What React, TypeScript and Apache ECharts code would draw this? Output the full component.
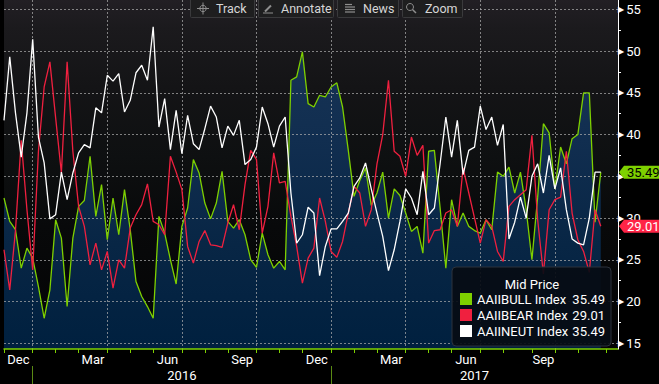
import React, { useEffect, useRef } from "react";
import * as echarts from "echarts";

// ---------------- data ----------------
const FIRST_WEEK = Date.UTC(2015, 11, 3); // first weekly observation (Thu 3 Dec 2015)
const SLOT_COUNT = 108; // weekly slots shown on the axis
const MONTH_NAMES = ["Jan", "Feb", "Mar", "Apr", "May", "Jun", "Jul", "Aug", "Sep", "Oct", "Nov", "Dec"];
const LABELLED_MONTHS = [11, 2, 5, 8];
const GRID_MONTHS = [0, 3, 6, 9];
const SERIES_NAMES = ["AAIIBULL Index", "AAIIBEAR Index", "AAIINEUT Index"];
const LEGEND_TITLE = "Mid Price";
const TOOLBAR_LABELS = ["Track", "Annotate", "News", "Zoom"];

const bull = [
  32.4, 29.6, 28.6, 24.0, 26.4, 25.2, 21.8, 18.0, 21.4, 29.8,
  27.6, 19.4, 27.6, 31.4, 32.1, 37.4, 30.2, 34.0, 27.4, 32.4,
  28.0, 33.4, 28.6, 22.4, 20.6, 19.4, 18.0, 30.2, 28.2, 25.0,
  22.1, 29.0, 31.2, 37.0, 35.4, 31.8, 29.9, 31.8, 35.6, 29.6,
  28.8, 29.8, 28.0, 25.0, 24.1, 28.2, 25.6, 24.0, 24.8, 23.8,
  46.5, 46.9, 49.9, 43.7, 43.3, 44.7, 44.5, 45.7, 46.2, 43.3,
  38.1, 32.6, 34.5, 36.0, 31.5, 33.0, 35.5, 30.0, 33.5, 32.7,
  30.6, 28.4, 29.0, 25.8, 38.0, 38.1, 31.2, 24.0, 32.2, 29.0,
  30.6, 29.0, 28.5, 28.2, 29.8, 28.6, 35.5, 35.0, 36.1, 33.0,
  35.5, 31.0, 25.0, 32.5, 41.3, 40.2, 33.5, 38.5, 36.5, 39.5,
  40.0, 45.0, 45.0, 29.5, 35.49,
];
const bear = [
  26.2, 21.4, 28.5, 39.3, 31.0, 23.8, 38.0, 45.7, 48.7, 42.0,
  35.4, 48.7, 38.0, 31.4, 29.0, 24.4, 27.0, 23.8, 26.0, 21.6,
  25.0, 24.0, 28.8, 30.4, 31.6, 34.1, 29.6, 29.2, 28.0, 37.4,
  35.5, 33.4, 26.6, 24.6, 27.2, 28.5, 26.8, 26.7, 26.5, 29.4,
  31.6, 28.6, 34.0, 38.1, 37.0, 28.2, 31.4, 37.8, 34.2, 34.4,
  30.2, 26.6, 22.2, 25.2, 26.4, 32.4, 29.6, 26.0, 25.3, 27.2,
  30.6, 33.8, 33.0, 29.0, 31.0, 36.5, 40.0, 46.5, 38.0, 37.4,
  35.0, 39.7, 37.5, 38.7, 27.0, 28.5, 28.6, 30.6, 31.0, 29.0,
  36.0, 33.0, 30.0, 27.0, 29.8, 29.0, 26.0, 24.8, 31.4, 32.2,
  32.8, 33.4, 39.9, 29.8, 23.3, 31.0, 32.2, 32.5, 38.0, 30.6,
  27.4, 26.0, 23.5, 31.0, 29.01,
];
const neut = [
  41.7, 49.3, 42.6, 37.3, 42.6, 51.4, 39.7, 36.6, 29.9, 30.4,
  35.5, 32.2, 35.4, 37.8, 38.8, 38.4, 43.2, 42.6, 47.1, 46.4,
  47.3, 42.7, 44.1, 47.4, 48.3, 46.5, 52.9, 40.9, 44.3, 38.2,
  42.9, 37.7, 42.3, 38.9, 38.2, 40.7, 43.4, 42.1, 38.4, 41.0,
  39.9, 41.7, 36.4, 37.0, 38.5, 43.3, 41.3, 38.5, 41.0, 42.1,
  33.0, 27.0, 28.0, 31.3, 30.6, 23.1, 26.6, 28.7, 28.7, 29.6,
  30.6, 33.8, 34.8, 36.6, 33.5, 30.6, 27.8, 23.7, 26.2, 29.6,
  33.5, 32.4, 30.4, 35.6, 30.4, 31.2, 36.5, 42.1, 37.3, 41.7,
  35.2, 38.1, 38.5, 43.4, 40.6, 42.1, 38.7, 41.2, 27.5, 29.5,
  32.5, 30.0, 35.0, 36.5, 33.0, 37.5, 33.5, 36.0, 31.0, 27.5,
  27.0, 26.8, 30.0, 35.49, 35.49,
];

// ---------------- layout / style ----------------
const W = 659;
const H = 384;
const PLOT_LEFT = 4;
const PLOT_RIGHT = 618;
const PLOT_BOTTOM = 349;
const TICK15_Y = 343.3;
const TICK55_Y = 9.3;
const PX_PER_UNIT = (TICK15_Y - TICK55_Y) / 40;
const DATA_MIN = 15 - (PLOT_BOTTOM - TICK15_Y) / PX_PER_UNIT;
const DATA_MAX = 55 + TICK55_Y / PX_PER_UNIT;
const STEP = (PLOT_RIGHT - PLOT_LEFT) / (SLOT_COUNT - 1);
const FONT = "Roboto, 'DejaVu Sans', sans-serif";
const GREEN = "#7ed000";
const RED = "#ff2446";
const WHITE = "#ffffff";
const GRID_DASH = "rgba(175,175,175,0.7)";

const TOOLBAR_LAYOUT = [
  { x0: 190, x1: 254, tx: 216, icon: "cross", ix: 203 },
  { x0: 258, x1: 333, tx: 281, icon: "pencil", ix: 268 },
  { x0: 337, x1: 398, tx: 363, icon: "news", ix: 350 },
  { x0: 402, x1: 462, tx: 425, icon: "zoom", ix: 411 },
];

// ---------------- derived axis helpers ----------------
const weeks = Array.from({ length: SLOT_COUNT }, (_, i) =>
  new Date(FIRST_WEEK + i * 7 * 86400000).toISOString().slice(0, 10)
);
const monthOf = (i: number) => Number(weeks[i].slice(5, 7)) - 1;
const yearOf = (i: number) => Number(weeks[i].slice(0, 4));
const idx = weeks.map((_, i) => i);
const monthStarts = idx.filter((i) => i === 0 || monthOf(i) !== monthOf(i - 1));
const monthLabels: Record<number, { text: string; half: boolean }> = {};
monthStarts.forEach((s, k) => {
  const e = monthStarts[k + 1];
  if (e === undefined || !LABELLED_MONTHS.includes(monthOf(s))) return;
  const c = (s + e) / 2;
  const li = Math.floor(c);
  monthLabels[li] = { text: MONTH_NAMES[monthOf(s)], half: c - li > 0.01 };
});
const gridStarts = monthStarts.filter((i) => i > 0 && GRID_MONTHS.includes(monthOf(i)));
const yearStarts = idx.filter((i) => i > 0 && yearOf(i) !== yearOf(i - 1));
const yearLabels: Record<number, string> = {};
yearStarts.forEach((s, k) => {
  const e = yearStarts[k + 1] ?? SLOT_COUNT - 1;
  yearLabels[Math.round((s + e) / 2)] = String(yearOf(s));
});

const last = (a: number[]) => a[a.length - 1];
const lastValues: Record<string, number> = {
  [SERIES_NAMES[0]]: last(bull),
  [SERIES_NAMES[1]]: last(bear),
  [SERIES_NAMES[2]]: last(neut),
};
// values flagged on the right axis (the neutral tag sits under the bull tag)
const TAGGED = [last(bull), last(bear)];

function buildOption(): any {
  const bgGrad = new echarts.graphic.LinearGradient(
    0, 0, 0, PLOT_BOTTOM,
    [
      { offset: 0, color: "#221f24" },
      { offset: 0.08, color: "#1b1a1d" },
      { offset: 0.25, color: "#141416" },
      { offset: 0.45, color: "#0e1011" },
      { offset: 0.65, color: "#08090a" },
      { offset: 1, color: "#040405" },
    ],
    true
  );
  const areaGrad = new echarts.graphic.LinearGradient(
    0, 0, 0, PLOT_BOTTOM,
    [
      { offset: 0, color: "#1a3658" },
      { offset: 0.4, color: "#112e50" },
      { offset: 0.7, color: "#082645" },
      { offset: 1, color: "#00203f" },
    ],
    true
  );
  const lineSeries = (name: string, data: number[], color: string, z: number) => ({
    name,
    type: "line",
    xAxisIndex: 0,
    yAxisIndex: 0,
    data,
    symbol: "none",
    lineStyle: { color, width: 1.3 },
    itemStyle: { color },
    z,
  });

  return {
    animation: false,
    backgroundColor: "#000",
    textStyle: { fontFamily: FONT },
    grid: [
      {
        left: PLOT_LEFT, right: W - PLOT_RIGHT, top: 0, bottom: H - PLOT_BOTTOM,
        show: true, backgroundColor: bgGrad, borderWidth: 0, outerBoundsMode: "none",
      },
      {
        left: PLOT_LEFT, right: W - PLOT_RIGHT, top: TICK55_Y, bottom: H - TICK15_Y,
        show: false, outerBoundsMode: "none",
      },
    ],
    xAxis: [
      {
        type: "category", gridIndex: 0, data: weeks, boundaryGap: false, z: 2,
        axisLine: { show: true, onZero: false, lineStyle: { color: GREEN, width: 1.5 } },
        axisTick: { show: true, interval: (i: number) => monthStarts.includes(i), length: 4, lineStyle: { color: GREEN } },
        axisLabel: {
          interval: (i: number) => monthLabels[i] !== undefined,
          formatter: (_v: string, i: number) => {
            const m = monthLabels[i];
            return m ? `{${m.half ? "h" : "f"}|${m.text}}` : "";
          },
          margin: 4,
          rich: {
            h: { padding: [0, 0, 0, STEP], color: WHITE, fontSize: 13, fontFamily: FONT },
            f: { color: WHITE, fontSize: 13, fontFamily: FONT },
          },
        },
        splitLine: {
          show: true,
          interval: (i: number) => gridStarts.includes(i),
          lineStyle: { color: GRID_DASH, type: [2, 2], width: 1 },
        },
      },
      {
        type: "category", gridIndex: 0, data: weeks, boundaryGap: false, position: "bottom", offset: 17,
        axisLine: { show: false },
        axisTick: { show: true, interval: (i: number) => yearStarts.includes(i), length: 18, lineStyle: { color: "#5a8a14", width: 1 } },
        axisLabel: {
          interval: (i: number) => yearLabels[i] !== undefined,
          formatter: (_v: string, i: number) => yearLabels[i] ?? "",
          margin: 3, color: WHITE, fontSize: 13, fontFamily: FONT,
        },
        splitLine: { show: false },
      },
      { type: "category", gridIndex: 1, data: weeks, boundaryGap: false, show: false },
    ],
    yAxis: [
      {
        type: "value", gridIndex: 0, position: "right", min: DATA_MIN, max: DATA_MAX, z: 4,
        axisLine: { show: true, lineStyle: { color: WHITE, width: 1 } },
        axisTick: { show: false }, axisLabel: { show: false }, splitLine: { show: false },
      },
      {
        type: "value", gridIndex: 1, position: "right", min: 15, max: 55, interval: 5, z: 2,
        axisLine: { show: false },
        axisTick: { show: true, length: 3, lineStyle: { color: WHITE } },
        minorTick: { show: true, splitNumber: 2, length: 3, lineStyle: { color: WHITE, width: 1 } },
        axisLabel: {
          margin: 0,
          // a tick value fully covered by a value tag is not drawn
          formatter: (v: number) =>
            TAGGED.some((t) => Math.abs(t - v) < 0.6) ? `{t|\u25B6}` : `{t|\u25B6}{v|${v}}`,
          rich: {
            t: { fontFamily: "DejaVu Sans", fontSize: 8, color: WHITE },
            v: { fontFamily: FONT, fontSize: 13, color: WHITE, padding: [0, 0, 0, 2] },
          },
        },
        splitLine: { show: true, lineStyle: { color: GRID_DASH, type: [2, 2], width: 1 } },
      },
    ],
    legend: {
      data: SERIES_NAMES,
      orient: "vertical",
      left: 452,
      top: 267,
      padding: [25, 6, 8, 8],
      itemGap: 2,
      itemWidth: 12,
      itemHeight: 12,
      icon: "rect",
      selectedMode: false,
      backgroundColor: "rgba(6,12,20,0.92)",
      borderColor: "#2c333c",
      borderWidth: 1,
      borderRadius: 4,
      z: 10,
      formatter: (name: string) => `{n|${name}}{v|${lastValues[name].toFixed(2)}}`,
      textStyle: {
        color: WHITE, fontSize: 13, fontFamily: FONT, lineHeight: 14,
        rich: {
          n: { width: 92, color: WHITE, fontSize: 13, fontFamily: FONT },
          v: { width: 36, align: "right", color: WHITE, fontSize: 13, fontFamily: FONT },
        },
      },
    },
    series: [
      {
        name: "bullArea", type: "line", xAxisIndex: 0, yAxisIndex: 0, data: bull, symbol: "none",
        lineStyle: { width: 0, opacity: 0 }, areaStyle: { color: areaGrad, opacity: 1, origin: "start" },
        z: 1, silent: true,
      },
      lineSeries(SERIES_NAMES[0], bull, GREEN, 3),
      lineSeries(SERIES_NAMES[1], bear, "#f0203f", 3),
      lineSeries(SERIES_NAMES[2], neut, WHITE, 3),
    ],
  };
}

function toolbarElements(): any[] {
  const els: any[] = [];
  const iconColor = "#8e8e8e";
  TOOLBAR_LABELS.forEach((label, k) => {
    const b = TOOLBAR_LAYOUT[k];
    els.push({
      type: "rect", z: 20, silent: true,
      shape: { x: b.x0 + 0.5, y: -1, width: b.x1 - b.x0, height: 18.5, r: 1 },
      style: { fill: "#1e1e1f", stroke: "#3a3a3c", lineWidth: 1 },
    });
    els.push({
      type: "text", z: 21, silent: true,
      style: { text: label, x: b.tx, y: 8.5, fill: "#d6d6d6", font: `12.5px ${FONT}`, align: "left", verticalAlign: "middle", textAlign: "left", textVerticalAlign: "middle" },
    });
    const cx = b.ix;
    const cy = 8.5;
    const st = { stroke: iconColor, fill: "none", lineWidth: 1 };
    if (b.icon === "cross") {
      els.push({ type: "circle", z: 21, silent: true, shape: { cx, cy, r: 3.2 }, style: st });
      els.push({ type: "line", z: 21, silent: true, shape: { x1: cx - 6, y1: cy, x2: cx + 6, y2: cy }, style: st });
      els.push({ type: "line", z: 21, silent: true, shape: { x1: cx, y1: cy - 6, x2: cx, y2: cy + 6 }, style: st });
    } else if (b.icon === "pencil") {
      els.push({ type: "line", z: 21, silent: true, shape: { x1: cx - 3, y1: cy + 3, x2: cx + 3, y2: cy - 3 }, style: { ...st, lineWidth: 2 } });
      els.push({ type: "line", z: 21, silent: true, shape: { x1: cx - 5, y1: cy + 4.5, x2: cx + 5, y2: cy + 4.5 }, style: st });
    } else if (b.icon === "news") {
      [-4, -1.5, 1, 3.5].forEach((dy, j) => {
        els.push({ type: "line", z: 21, silent: true, shape: { x1: cx - 5, y1: cy + dy, x2: cx + (j === 0 ? 2 : 5), y2: cy + dy }, style: { ...st, lineWidth: 1.2 } });
      });
    } else {
      els.push({ type: "circle", z: 21, silent: true, shape: { cx: cx - 1, cy: cy - 1.5, r: 3.5 }, style: st });
      els.push({ type: "line", z: 21, silent: true, shape: { x1: cx + 1.5, y1: cy + 1, x2: cx + 5, y2: cy + 4.5 }, style: { ...st, lineWidth: 1.5 } });
    }
  });
  return els;
}

export default function App() {
  const ref = useRef<HTMLDivElement>(null);
  useEffect(() => {
    const el = ref.current;
    if (!el) return;
    const chart = echarts.init(el, null, { renderer: "svg" });
    chart.setOption(buildOption());

    const tag = (value: number, fill: string, textColor: string) => {
      const y = chart.convertToPixel({ yAxisIndex: 0 } as any, value) as unknown as number;
      return [
        {
          type: "polygon", z: 30, silent: true,
          shape: { points: [[PLOT_RIGHT + 1, y], [PLOT_RIGHT + 6, y - 6.5], [W, y - 6.5], [W, y + 6.5], [PLOT_RIGHT + 6, y + 6.5]] },
          style: { fill },
        },
        {
          type: "text", z: 31, silent: true,
          style: { text: value.toFixed(2), x: PLOT_RIGHT + 9, y: y + 0.5, fill: textColor, font: `13px ${FONT}`, align: "left", verticalAlign: "middle", textAlign: "left", textVerticalAlign: "middle" },
        },
      ];
    };

    chart.setOption({
      graphic: {
        elements: [
          ...toolbarElements(),
          {
            type: "text", z: 30, silent: true,
            style: { text: LEGEND_TITLE, x: 532, y: 284, fill: WHITE, font: `13px ${FONT}`, align: "center", verticalAlign: "middle", textAlign: "center", textVerticalAlign: "middle" },
          },
          ...tag(last(bull), GREEN, "#000"),
          ...tag(last(bear), RED, WHITE),
        ],
      },
    });
    return () => chart.dispose();
  }, []);
  return <div ref={ref} style={{ position: "fixed", left: 0, top: 0, width: W, height: H }} />;
}
